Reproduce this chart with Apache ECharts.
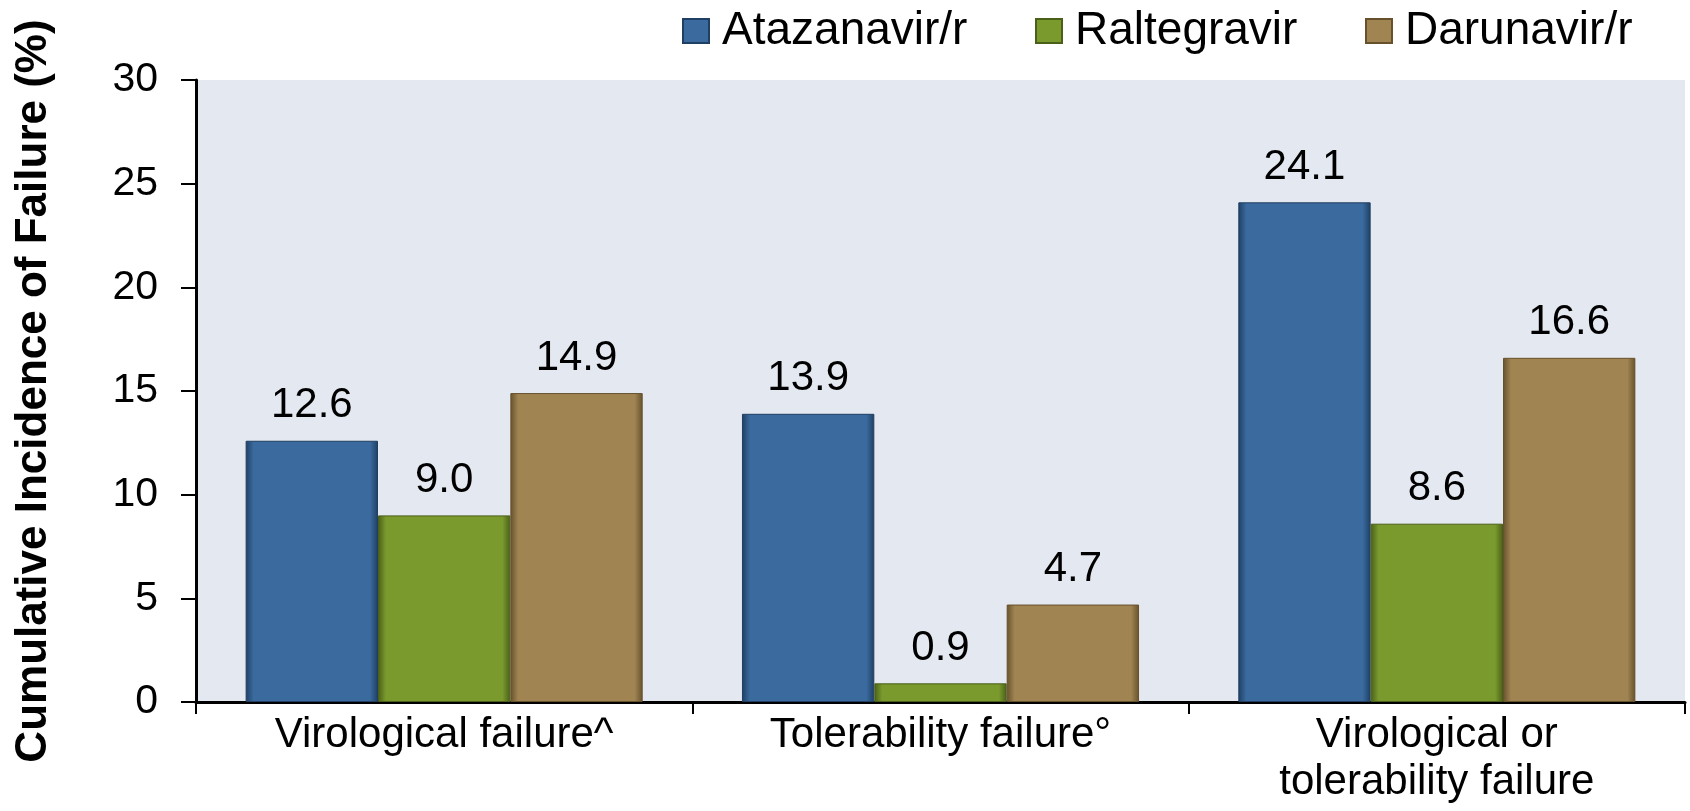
<!DOCTYPE html>
<html>
<head>
<meta charset="utf-8">
<script src="https://cdn.jsdelivr.net/npm/echarts@6/dist/echarts.min.js"></script>
<style>
  html, body { margin: 0; padding: 0; background: #ffffff; }
  #chart { width: 1690px; height: 811px; }
</style>
</head>
<body>
<div id="chart"></div>
<script>
// data
const categories = ["Virological failure^", "Tolerability failure°", "Virological or\ntolerability failure"];
const seriesNames = ["Atazanavir/r", "Raltegravir", "Darunavir/r"];
const atazanavir = [12.6, 13.9, 24.1];
const raltegravir = [9.0, 0.9, 8.6];
const darunavir = [14.9, 4.7, 16.6];
const yTicks = { min: 0, max: 30, step: 5 };

const FONT = "Liberation Sans, Arial, sans-serif";

// base / edge colours for the bevelled bars
const palette = [
  { base: "#3a6a9e", edge: "#1f3f63" },
  { base: "#7a9a2e", edge: "#4a5f18" },
  { base: "#a08452", edge: "#66512c" },
];

function bevel(c) {
  return {
    type: "linear", x: 0, y: 0, x2: 1, y2: 0,
    colorStops: [
      { offset: 0, color: c.edge },
      { offset: 0.06, color: c.base },
      { offset: 0.94, color: c.base },
      { offset: 1, color: c.edge },
    ],
  };
}

function makeSeries(name, values, c) {
  return {
    name: name,
    type: "bar",
    data: values,
    barGap: "0%",
    barCategoryGap: "20%",
    itemStyle: {
      color: bevel(c),
      borderColor: c.edge,
      borderWidth: 1,
    },
    label: {
      show: true,
      position: "top",
      distance: 14,
      fontSize: 42,
      fontFamily: FONT,
      color: "#000",
      formatter: (p) => p.value.toFixed(1),
    },
  };
}

// one legend per series so each sits where the reference has it
const legendLeft = [677, 1030, 1360];
const legends = seriesNames.map((n, i) => ({
  data: [n],
  left: legendLeft[i],
  top: 3,
  itemWidth: 26,
  itemHeight: 24,
  icon: "rect",
  textStyle: { fontSize: 46, fontFamily: FONT, color: "#000", padding: [0, 0, 0, 8] },
}));

const chart = echarts.init(document.getElementById("chart"), null, { renderer: "canvas" });
chart.setOption({
  backgroundColor: "#ffffff",
  animation: false,
  legend: legends,
  grid: {
    left: 196, right: 5, top: 80, bottom: 109,
    outerBoundsMode: "none",
    show: true, backgroundColor: "#e4e8f0", borderWidth: 0,
  },
  xAxis: {
    type: "category",
    data: categories,
    axisLine: { lineStyle: { color: "#000", width: 3 } },
    axisTick: { show: true, length: 12, lineStyle: { color: "#000", width: 2 } },
    axisLabel: {
      interval: 0, margin: 10, fontSize: 42, lineHeight: 47,
      fontFamily: FONT, color: "#000",
    },
  },
  yAxis: {
    type: "value",
    min: yTicks.min, max: yTicks.max, interval: yTicks.step,
    name: "Cumulative Incidence of Failure (%)",
    nameLocation: "middle",
    nameRotate: 90,
    nameGap: 140,
    nameTextStyle: { fontSize: 44, fontWeight: "bold", fontFamily: FONT, color: "#000" },
    axisLine: { show: true, lineStyle: { color: "#000", width: 3 } },
    axisTick: { show: true, length: 15, lineStyle: { color: "#000", width: 2 } },
    axisLabel: { margin: 38, fontSize: 41, fontFamily: FONT, color: "#000" },
    splitLine: { show: false },
  },
  series: [
    makeSeries(seriesNames[0], atazanavir, palette[0]),
    makeSeries(seriesNames[1], raltegravir, palette[1]),
    makeSeries(seriesNames[2], darunavir, palette[2]),
  ],
});
</script>
</body>
</html>
